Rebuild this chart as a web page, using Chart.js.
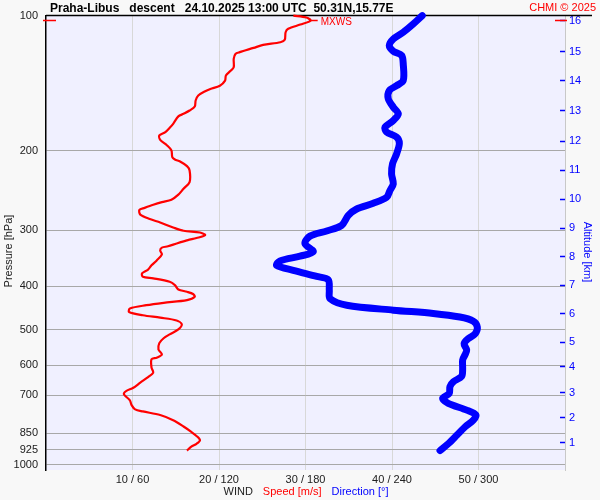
<!DOCTYPE html>
<html>
<head>
<meta charset="utf-8">
<script src="https://cdn.jsdelivr.net/npm/chart.js@4.4.1/dist/chart.umd.min.js"></script>
<style>
  html, body { margin: 0; padding: 0; background: #f8f8f8; }
  #wrap { width: 600px; height: 500px; }
</style>
</head>
<body>
<div id="wrap"><canvas id="chart" width="600" height="500"></canvas></div>
<script>
// wind speed profile [m/s] against pressure [hPa]
var speedPress = [100, 101, 102.6, 104.7, 107, 108.9, 113.2, 114.6, 116.2, 118, 120.6, 121.7, 124.8, 130.3, 132.9,
    135.9, 139.5, 143.2, 145.6, 147.3, 150.6, 154.5, 159.3, 162.6, 165.4, 167.6, 174.1, 177.7, 181.7, 184.8, 189,
    194.5, 199.5, 206.5, 209, 211.2, 216.3, 221.2, 234.7, 242.8, 250.3, 256.9, 260.1, 263.6, 267.8, 270.6, 277.3,
    283.6, 288.6, 296.1, 301.2, 303.8, 307.9, 312.6, 316, 321.5, 326.1, 328.3, 333.2, 340, 350.6, 359.4, 367.4,
    374.8, 381.3, 384.3, 391.1, 397.8, 406.8, 411.7, 416.5, 422.4, 429.7, 435.6, 441, 448.5, 456.5, 464.2, 470,
    476.8, 486.2, 499.3, 512.1, 522.3, 535.5, 553.4, 567.9, 576.9, 581.9, 607.5, 622.6, 637.5, 655.6, 673.2, 684,
    693, 700, 718, 736, 752, 760, 774, 795, 821, 844, 865, 881, 897, 910, 929];
var speed = [28.6, 30.1, 30.6, 29.4, 28.0, 27.7, 27.6, 27.1, 25.1, 24.0, 22.4, 21.9, 21.7, 21.7, 21.3,
    20.8, 20.7, 20.1, 19.0, 18.4, 17.6, 17.3, 17.2, 16.6, 15.9, 15.3, 14.7, 14.3, 13.8, 13.1, 13.2,
    14.0, 14.5, 14.6, 14.9, 15.5, 16.3, 16.6, 16.6, 15.9, 15.3, 14.5, 13.4, 12.4, 11.4, 10.8, 10.9,
    12.0, 13.2, 14.7, 15.9, 17.8, 18.4, 17.4, 16.4, 15.1, 14.1, 13.4, 13.2, 13.4, 12.8, 12.2, 11.8,
    11.1, 11.2, 12.4, 14.3, 14.9, 15.3, 16.3, 17.0, 17.2, 16.3, 13.6, 11.6, 9.7, 9.6, 11.2, 13.2,
    15.1, 15.7, 15.3, 14.3, 13.6, 13.1, 13.0, 13.4, 12.8, 12.2, 12.2, 12.4, 11.8, 10.9, 10.1, 9.3,
    9.0, 9.1, 9.7, 9.9, 10.3, 11.2, 13.2, 14.7, 15.9, 16.8, 17.5, 17.8, 17.4, 16.8, 16.3];

// wind direction profile [deg] against pressure [hPa]
var dirPress = [100, 104.3, 108.9, 112.7, 116.6, 120, 122.7, 128.1, 139.5, 143.2, 146.8, 153.1, 159.9, 165.4,
    171.2, 177.2, 181.7, 186.4, 192.3, 203, 213.6, 224.9, 236.8, 245, 253.6, 261.6, 269.4, 278.3, 292.9,
    301.5, 309.6, 321.4, 335.5, 343, 351.5, 359.4, 368.8, 380.5, 387.2, 408.7, 426.3, 441, 452.3, 460,
    468.6, 478.6, 493.5, 510.6, 523.6, 537, 555, 569, 583.7, 614, 635, 653, 669, 693, 711, 729, 755,
    774, 795, 823, 859, 897, 929];
var direction = [261, 254.8, 247.8, 240.9, 238.1, 240.9, 246.7, 247.8, 247.8, 243.2, 238.1, 237.4, 240.9, 244.4,
    240.9, 235.1, 236.3, 243.2, 245.1, 243.2, 240.4, 239.7, 240.9, 238.6, 236.3, 227.0, 215.5, 209.7, 205.1,
    194.7, 183.1, 179.6, 185.4, 176.2, 162.3, 160.0, 171.5, 187.8, 195.8, 196.5, 197.0, 208.6, 240.9, 268.6,
    287.1, 296.4, 299.2, 297.6, 292.9, 290.0, 291.8, 290.6, 289.0, 289.0, 288.3, 282.5, 280.2, 279.7, 275.1, 279.0, 291.8,
    298.2, 296.4, 290.6, 284.9, 279.0, 273.3];

// axes
var pressTicks = [100, 200, 300, 400, 500, 600, 700, 850, 925, 1000];
var speedTicks = [10, 20, 30, 40, 50];
var altKm = [16, 15, 14, 13, 12, 11, 10, 9, 8, 7, 6, 5, 4, 3, 2, 1];
var altPress = [102.6, 120.2, 139.7, 162.6, 190.5, 221.0, 256.4, 297.6, 344.1, 397.9, 460.1, 532.5, 605.2, 691.3, 785.4, 891.9];
var mxwsPress = 102.6;

var RED = '#ff0000', BLUE = '#0000ff', INK = '#202020';
var FONT = '"Liberation Sans", Arial, sans-serif';

Chart.defaults.font.family = FONT;
Chart.defaults.font.size = 11;

function fixWidth(w) { return function (scale) { scale.width = w; }; }

var decor = {
    id: 'decor',
    beforeDraw: function (chart) {
        var ctx = chart.ctx, a = chart.chartArea;
        ctx.save();
        ctx.fillStyle = '#f8f8f8';
        ctx.fillRect(0, 0, chart.width, chart.height);
        ctx.fillStyle = '#f0f0ff';
        ctx.fillRect(a.left, a.top, a.right - a.left, a.bottom - a.top);
        ctx.restore();
    },
    beforeDatasetsDraw: function (chart) {
        var ctx = chart.ctx, a = chart.chartArea;
        ctx.save();
        ctx.strokeStyle = '#000';
        ctx.lineWidth = 1.5;
        ctx.beginPath();
        ctx.moveTo(a.left, a.top);
        ctx.lineTo(592, a.top);
        ctx.stroke();
        ctx.restore();
    },
    afterDraw: function (chart) {
        var ctx = chart.ctx, a = chart.chartArea;
        var xs = chart.scales.x, ys = chart.scales.y;
        ctx.save();

        // header
        ctx.textBaseline = 'alphabetic';
        ctx.fillStyle = '#000';
        ctx.font = 'bold 12px ' + FONT;
        ctx.textAlign = 'left';
        ctx.fillText('Praha-Libus   descent   24.10.2025 13:00 UTC  50.31N,15.77E', 50, 12);
        ctx.fillStyle = RED;
        ctx.font = '11px ' + FONT;
        ctx.textAlign = 'right';
        ctx.fillText('CHMI \u00a9 2025', 596, 11);

        // max wind level
        var my = ys.getPixelForValue(mxwsPress);
        var mx = xs.getPixelForValue(Math.max.apply(null, speed));
        ctx.strokeStyle = RED;
        ctx.lineWidth = 1.5;
        ctx.beginPath();
        ctx.moveTo(a.left - 3, my); ctx.lineTo(a.left + 10, my);
        ctx.moveTo(a.right - 10, my); ctx.lineTo(a.right + 2, my);
        ctx.moveTo(mx, my); ctx.lineTo(mx + 7, my);
        ctx.stroke();
        ctx.fillStyle = RED;
        ctx.font = '10px ' + FONT;
        ctx.textAlign = 'left';
        ctx.textBaseline = 'middle';
        ctx.fillText('MXWS', mx + 10, my + 2);

        // bottom axis title
        ctx.font = '11px ' + FONT;
        var parts = [['WIND', INK], ['Speed [m/s]', RED], ['Direction [\u00b0]', BLUE]];
        var gap = 10, total = 0;
        parts.forEach(function (p) { total += ctx.measureText(p[0]).width; });
        total += gap * (parts.length - 1);
        var x = 306 - total / 2;
        parts.forEach(function (p) {
            ctx.fillStyle = p[1];
            ctx.fillText(p[0], x, 492);
            x += ctx.measureText(p[0]).width + gap;
        });

        // side titles
        ctx.textAlign = 'center';
        ctx.fillStyle = INK;
        ctx.translate(9, 251);
        ctx.rotate(-Math.PI / 2);
        ctx.fillText('Pressure [hPa]', 0, 0);
        ctx.setTransform(1, 0, 0, 1, 0, 0);
        ctx.fillStyle = BLUE;
        ctx.translate(587, 252);
        ctx.rotate(Math.PI / 2);
        ctx.fillText('Altitude [km]', 0, 0);
        ctx.restore();
    }
};

new Chart(document.getElementById('chart').getContext('2d'), {
    type: 'scatter',
    plugins: [decor],
    data: {
        datasets: [
            {
                label: 'Direction',
                data: direction.map(function (d, i) { return { x: d, y: dirPress[i] }; }),
                xAxisID: 'x2',
                yAxisID: 'y',
                showLine: true,
                borderColor: BLUE,
                borderWidth: 7,
                borderJoinStyle: 'round',
                borderCapStyle: 'round',
                pointRadius: 0,
                tension: 0.3,
                clip: 6
            },
            {
                label: 'Speed',
                data: speed.map(function (s, i) { return { x: s, y: speedPress[i] }; }),
                xAxisID: 'x',
                yAxisID: 'y',
                showLine: true,
                borderColor: RED,
                borderWidth: 2.2,
                borderJoinStyle: 'round',
                pointRadius: 0,
                tension: 0.3,
                clip: 4
            }
        ]
    },
    options: {
        responsive: false,
        animation: false,
        layout: { padding: { top: 15, left: 0, right: 0, bottom: 0 } },
        plugins: {
            legend: { display: false },
            tooltip: { enabled: false },
            title: { display: false }
        },
        scales: {
            x: {
                type: 'linear',
                position: 'bottom',
                min: 0,
                max: 60,
                afterBuildTicks: function (scale) {
                    scale.ticks = speedTicks.map(function (v) { return { value: v }; });
                },
                afterFit: function (scale) { scale.height = 30; },
                grid: { color: '#d8d8d8', drawTicks: false },
                border: { display: false },
                ticks: {
                    color: INK,
                    padding: 3,
                    autoSkip: false,
                    maxRotation: 0,
                    callback: function (value) { return value + ' / ' + value * 6; }
                }
            },
            x2: {
                type: 'linear',
                display: false,
                min: 0,
                max: 360
            },
            y: {
                type: 'logarithmic',
                position: 'left',
                reverse: true,
                min: 100,
                max: 1026,
                bounds: 'data',
                afterBuildTicks: function (scale) {
                    scale.ticks = pressTicks.map(function (v) { return { value: v }; });
                },
                afterFit: fixWidth(46),
                grid: {
                    drawTicks: false,
                    color: function (c) { return c.tick && c.tick.value === 100 ? 'rgba(0,0,0,0)' : '#a8a8a8'; }
                },
                border: { color: '#000', width: 1.5 },
                ticks: {
                    color: INK,
                    padding: 8,
                    autoSkip: false,
                    callback: function (value) { return String(value); }
                }
            },
            y2: {
                type: 'logarithmic',
                position: 'right',
                reverse: true,
                min: 100,
                max: 1026,
                bounds: 'data',
                afterBuildTicks: function (scale) {
                    scale.ticks = altPress.map(function (v) { return { value: v }; });
                },
                afterFit: fixWidth(35),
                grid: {
                    drawOnChartArea: false,
                    drawTicks: true,
                    tickLength: -5,
                    tickColor: BLUE,
                    tickWidth: 1.5
                },
                border: { color: '#c8c8c8', width: 1 },
                ticks: {
                    color: BLUE,
                    padding: 9,
                    autoSkip: false,
                    callback: function (value, index) { return String(altKm[index]); }
                }
            }
        }
    }
});
</script>
</body>
</html>
